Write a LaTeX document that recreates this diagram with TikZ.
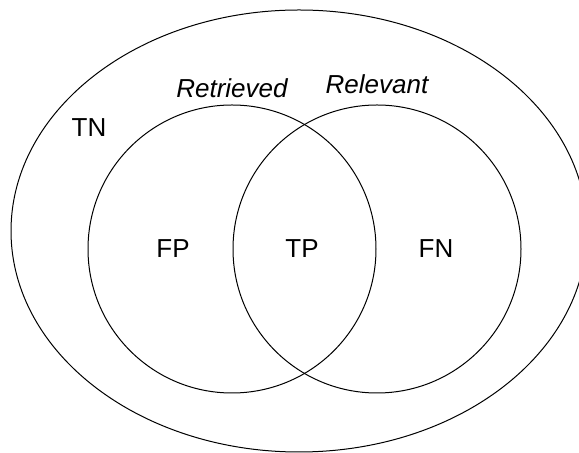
\documentclass[tikz,border=0pt]{standalone}
\usepackage{fontspec}
\setmainfont{Liberation Sans}
\usetikzlibrary{positioning,shapes.geometric}

\begin{document}
\begin{tikzpicture}[
      x=0.5pt, y=-0.5pt,
      universe/.style={
         ellipse,
         draw=black,
         line width=0.5pt,
         inner sep=0pt,
         minimum width=288pt,
         minimum height=221pt},
      setcircle/.style={
         circle,
         draw=black,
         line width=0.5pt,
         inner sep=0pt,
         minimum size=144pt},
      lbl/.style={font=\fontsize{13}{15}\selectfont},
      setname/.style={font=\fontsize{13}{15}\selectfont\itshape}
      ]
      \useasboundingbox (0,0) rectangle (579,453);

      % outer set and the two overlapping sets
      \node[universe] (all) at (299,231) {};
      \node[setcircle] (ret) at (232,249) {};
      \node[setcircle] (rel) at (377,249) {};

      \node[setname,above=0pt of ret] (retname) {Retrieved};
      \node[setname,above=2pt of rel] (relname) {Relevant};

      % regions
      \node[lbl] (tn) at (89,128) {TN};
      \node[lbl] (fp) at (173,249) {FP};
      \node[lbl] (tp) at (302,249) {TP};
      \node[lbl] (fn) at (436,249) {FN};
\end{tikzpicture}
\end{document}
